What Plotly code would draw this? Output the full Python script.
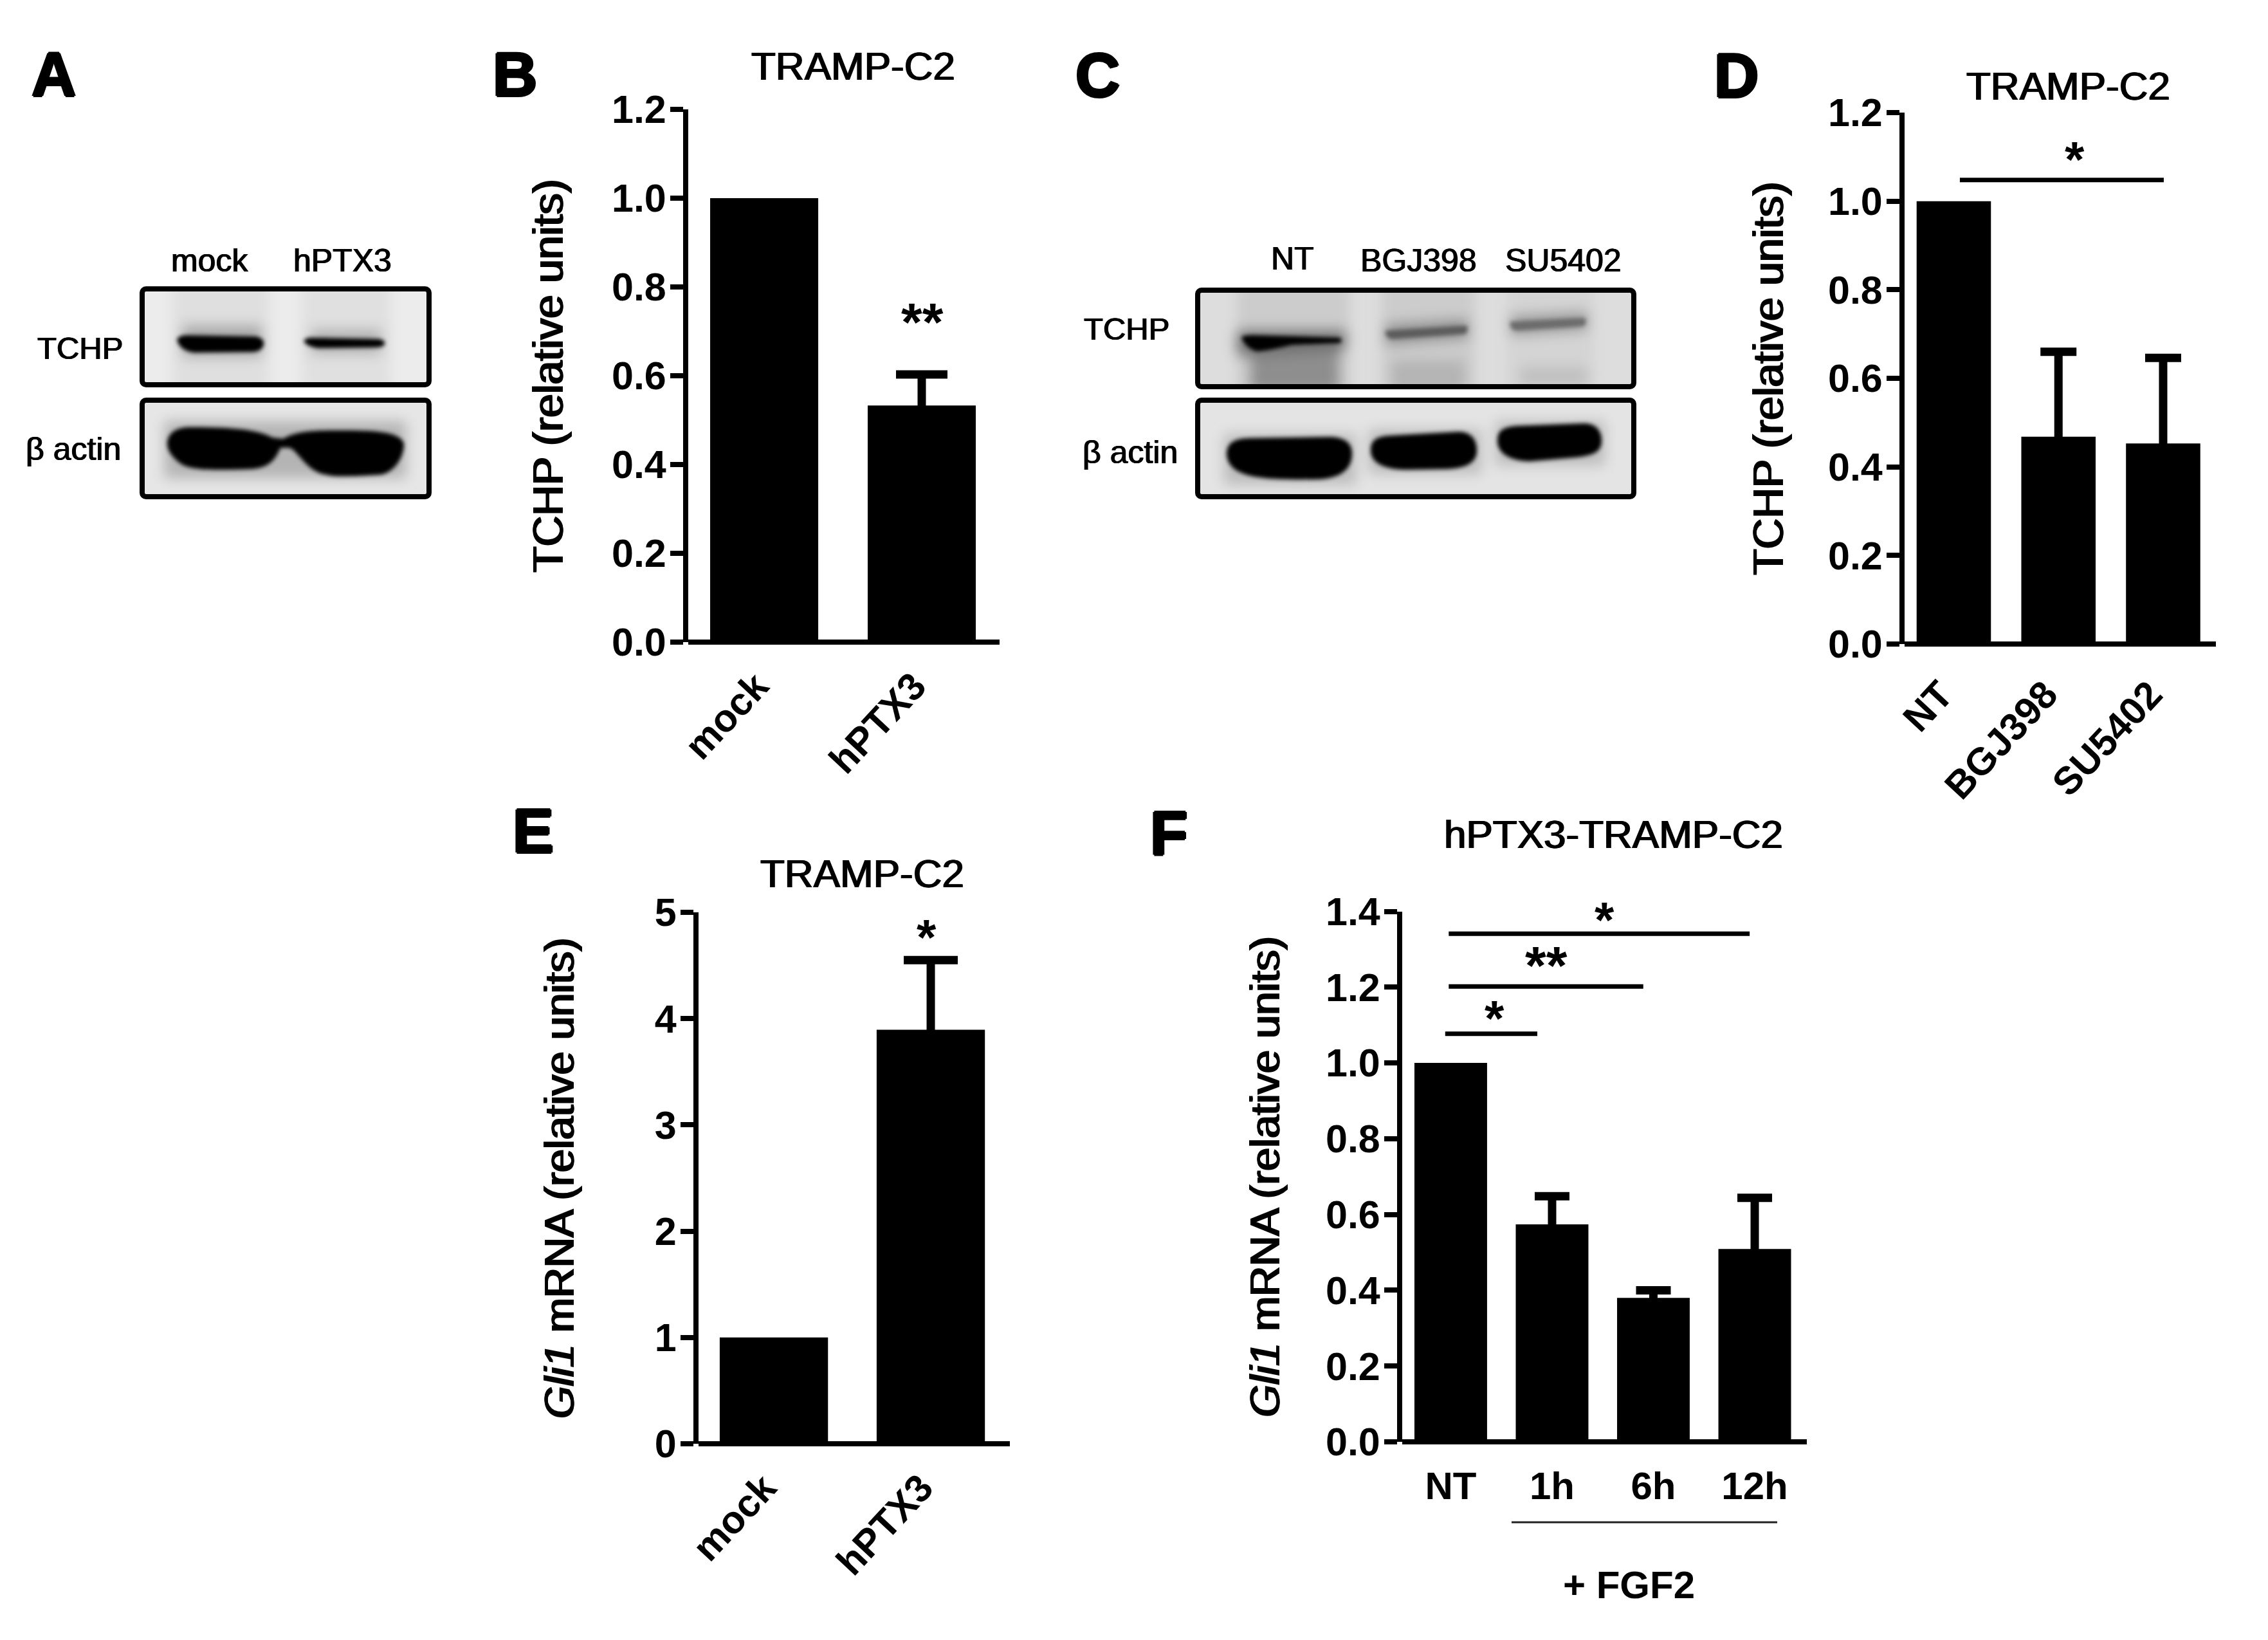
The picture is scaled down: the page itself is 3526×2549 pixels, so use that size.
import base64
import plotly.graph_objects as go

W, H = 3526, 2549
FONT = "Liberation Sans, Arial, sans-serif"

# ---- data ----
B_CATS = ["mock", "hPTX3"]
B_VALS = [1.0, 0.533]
B_ERR = [None, 0.070]
B_TICKS = [0, 0.2, 0.4, 0.6, 0.8, 1.0, 1.2]

D_CATS = ["NT", "BGJ398", "SU5402"]
D_VALS = [1.0, 0.468, 0.453]
D_ERR = [None, 0.192, 0.193]
D_TICKS = [0, 0.2, 0.4, 0.6, 0.8, 1.0, 1.2]

E_CATS = ["mock", "hPTX3"]
E_VALS = [1.0, 3.895]
E_ERR = [None, 0.655]
E_TICKS = [0, 1, 2, 3, 4, 5]

F_CATS = ["NT", "1h", "6h", "12h"]
F_VALS = [1.0, 0.574, 0.38, 0.509]
F_ERR = [None, 0.074, 0.020, 0.135]
F_TICKS = [0, 0.2, 0.4, 0.6, 0.8, 1.0, 1.2, 1.4]

D_SIG = [(0.058, 2.006, 1.048, "*")]
F_SIG = [(-0.02, 2.95, 1.341, "*"), (-0.02, 1.90, 1.2016, "**"), (-0.055, 0.854, 1.077, "*")]

PANEL_LETTERS = [("A", 83, 116), ("B", 800, 116), ("C", 1706, 117), ("D", 2699, 118), ("E", 829, 1291), ("F", 1818, 1294)]


def px(x):
    return x / W


def py(y):
    return 1 - y / H


fig = go.Figure()

PANELS = [
    dict(n="", cats=B_CATS, vals=B_VALS, err=B_ERR, ticks=B_TICKS, dom=(1070, 1554, 170, 998),
         rng=(-0.482, 1.494), ymax=1.2, gap=0.314, cap=40, angle=-47, ytitle="TCHP (relative units)", fmt=".1f",
         stand=57, shift=-12, xoff=20, tsize=66),
    dict(n="2", cats=D_CATS, vals=D_VALS, err=D_ERR, ticks=D_TICKS, dom=(2961, 3445, 175, 1001),
         rng=(-0.47, 2.504), ymax=1.2, gap=0.29, cap=28, angle=-47, ytitle="TCHP (relative units)", fmt=".1f",
         stand=51, shift=-20, xoff=30, tsize=66),
    dict(n="3", cats=E_CATS, vals=E_VALS, err=E_ERR, ticks=E_TICKS, dom=(1086, 1570, 1418, 2244),
         rng=(-0.48, 1.504), ymax=5, gap=0.31, cap=42, angle=-47, ytitle="<i>Gli1</i> mRNA (relative units)", fmt="d",
         stand=107, shift=-15, xoff=20, tsize=65),
    dict(n="4", cats=F_CATS, vals=F_VALS, err=F_ERR, ticks=F_TICKS, dom=(2180, 2809, 1416.5, 2241),
         rng=(-0.479, 3.514), ymax=1.4, gap=0.283, cap=27, angle=0, ytitle="<i>Gli1</i> mRNA (relative units)", fmt=".1f",
         stand=53, shift=0, xoff=28, tsize=65),
]

MEDIUM = "1px 0 0 #000, -1px 0 0 #000"
TITLE_WEIGHT = "1.4px 0 0 #000, -1.4px 0 0 #000"

layout_axes = {}
for p in PANELS:
    xs = list(range(len(p["cats"])))
    fig.add_trace(go.Bar(
        x=xs, y=p["vals"], xaxis="x" + p["n"], yaxis="y" + p["n"], width=1 - p["gap"],
        marker=dict(color="#000000", line=dict(width=0)), showlegend=False,
    ))
    ex = [x for x, e in zip(xs, p["err"]) if e is not None]
    ey = [v for v, e in zip(p["vals"], p["err"]) if e is not None]
    ee = [e for e in p["err"] if e is not None]
    fig.add_trace(go.Scatter(
        x=ex, y=ey, xaxis="x" + p["n"], yaxis="y" + p["n"], mode="markers", marker=dict(size=1, color="#000"),
        error_y=dict(type="data", symmetric=False, array=ee, arrayminus=[p["ymax"] * 0.03] * len(ee),
                     color="#000000", thickness=13, width=p["cap"]),
        showlegend=False, hoverinfo="skip",
    ))
    x0, x1, y0, y1 = p["dom"]
    layout_axes["xaxis" + p["n"]] = dict(
        domain=[px(x0), px(x1)], range=list(p["rng"]), anchor="y" + p["n"], tickmode="array", automargin=False,
        tickvals=xs, ticktext=p["cats"], tickangle=p["angle"], ticks="", showgrid=False, zeroline=False,
        showline=False, ticklabelstandoff=p["xoff"], ticklabelshift=p["shift"],
        tickfont=dict(family=FONT, size=60, color="#000", weight="bold"),
    )
    layout_axes["yaxis" + p["n"]] = dict(
        domain=[py(y1), py(y0)], range=[0, p["ymax"]], anchor="x" + p["n"], tickmode="array", automargin=False,
        tickvals=p["ticks"], tickformat=p["fmt"], ticks="outside", ticklen=20, tickwidth=8, tickcolor="#000",
        showgrid=False, zeroline=True, zerolinecolor="#000", zerolinewidth=8,
        showline=True, linecolor="#000", linewidth=8, ticklabelstandoff=-6,
        tickfont=dict(family=FONT, size=61, color="#000", weight="bold"),
        title=dict(text=p["ytitle"], standoff=p["stand"],
                   font=dict(family=FONT, size=p["tsize"], color="#000", shadow=TITLE_WEIGHT)),
    )

# significance bars
for n, sig in (("2", D_SIG), ("4", F_SIG)):
    for a, b, y, _s in sig:
        fig.add_trace(go.Scatter(x=[a, b], y=[y, y], xaxis="x" + n, yaxis="y" + n, mode="lines",
                                 line=dict(color="#000", width=7), showlegend=False, hoverinfo="skip"))

ann = []


def text(t, x, y, size, bold=False, shadow=None):
    f = dict(family=FONT, size=size, color="#000", weight="bold" if bold else "normal")
    if shadow:
        f["shadow"] = shadow
    ann.append(dict(text=t, x=px(x), y=py(y), xref="paper", yref="paper", xanchor="center", yanchor="middle",
                    showarrow=False, font=f))


for t, x, y in PANEL_LETTERS:
    text(t, x, y, 96, True, "2px 0 0 #000, -2px 0 0 #000, 0 2px 0 #000, 0 -2px 0 #000")

text("TRAMP-C2", 1326, 102, 62, False, MEDIUM)
text("TRAMP-C2", 3215, 133, 62, False, MEDIUM)
text("TRAMP-C2", 1340, 1357, 62, False, MEDIUM)
text("hPTX3-TRAMP-C2", 2508, 1296, 62, False, MEDIUM)
text("+ FGF2", 2532, 2463, 60, True)

STAR_DROP = 20
text("**", 1434, 481 + STAR_DROP, 84, True)
text("*", 3225, 228 + STAR_DROP, 78, True)
text("*", 1440, 1437 + STAR_DROP, 78, True)
text("*", 2494, 1410 + STAR_DROP, 78, True)
text("**", 2404, 1481 + STAR_DROP, 84, True)
text("*", 2323, 1563 + STAR_DROP, 78, True)

# blot labels
LABEL = "0.7px 0 0 #000, -0.7px 0 0 #000"
text("mock", 326, 405, 50, False, LABEL)
text("hPTX3", 532, 405, 50, False, LABEL)
text("TCHP", 125, 541, 49, False, LABEL)
text("β actin", 114, 698, 50, False, LABEL)
text("NT", 2009, 402, 50, False, LABEL)
text("BGJ398", 2205, 405, 50, False, LABEL)
text("SU5402", 2430, 405, 50, False, LABEL)
text("TCHP", 1751, 511, 49, False, LABEL)
text("β actin", 1757, 703, 50, False, LABEL)

# "+ FGF2" bracket
shapes = [dict(type="line", xref="paper", yref="paper", x0=px(2350), x1=px(2763), y0=py(2366), y1=py(2366),
               line=dict(color="#222", width=3))]


def blot_svg(vx, vy, vw, vh, boxes, bg, fg):
    """Western-blot picture: grey boxes, blurred lanes and bands, black frames (picture coordinates)."""
    s = [f'<svg xmlns="http://www.w3.org/2000/svg" width="{vw}" height="{vh}" viewBox="{vx} {vy} {vw} {vh}" preserveAspectRatio="none">',
         '<defs><filter id="b3" x="-30%" y="-30%" width="160%" height="160%"><feGaussianBlur stdDeviation="3"/></filter>',
         '<filter id="b10" x="-30%" y="-30%" width="160%" height="160%"><feGaussianBlur stdDeviation="10"/></filter>']
    for i, (x, y, w, h) in enumerate(boxes):
        s.append(f'<clipPath id="c{i}"><rect x="{x}" y="{y}" width="{w}" height="{h}" rx="9"/></clipPath>')
    s.append('</defs>')
    for i, (x, y, w, h) in enumerate(boxes):
        s.append(f'<g clip-path="url(#c{i})"><rect x="{x}" y="{y}" width="{w}" height="{h}" fill="{bg[i]}"/>')
        s.append('<g filter="url(#b10)">' + fg[i][0] + '</g>')
        s.append('<g filter="url(#b3)">' + fg[i][1] + '</g></g>')
        s.append(f'<rect x="{x + 4}" y="{y + 4}" width="{w - 8}" height="{h - 8}" rx="6" fill="none" stroke="#000" stroke-width="8"/>')
    s.append('</svg>')
    return "data:image/svg+xml;base64," + base64.b64encode("".join(s).encode()).decode()


A_LANES_TOP = ('<rect x="270" y="440" width="150" height="170" fill="#dfdfdf"/>'
               '<rect x="470" y="440" width="140" height="170" fill="#e0e0e0"/>'
               '<rect x="285" y="505" width="125" height="50" fill="#a8a8a8"/>'
               '<rect x="485" y="512" width="110" height="38" fill="#b0b0b0"/>')
A_BANDS_TOP = ('<path d="M277,528 Q280,521 292,521 L400,523 Q413,526 412,535 Q410,546 395,547 L305,548 Q282,546 277,528Z" fill="#000"/>'
               '<path d="M474,530 Q478,524 490,525 L592,527 Q602,530 600,535 Q598,540 585,540 L495,541 Q478,538 474,530Z" fill="#000"/>')
A_LANES_BOT = ('<rect x="258" y="655" width="375" height="88" fill="#b4b4b4"/>')
A_BANDS_BOT = ('<path d="M262,690 C262,668 285,663 300,664 C340,664 400,665 425,680 L442,682 C460,672 480,669 520,669 '
               'C570,669 625,668 630,690 C630,715 610,738 590,738 C560,740 520,742 510,738 C480,735 465,700 452,696 L438,696 '
               'C430,715 420,728 390,729 C340,731 300,731 285,722 C270,712 262,700 262,690Z" fill="#000"/>')

C_LANES_TOP = ('<rect x="1925" y="440" width="175" height="170" fill="#cccccc"/>'
               '<rect x="2150" y="440" width="145" height="170" fill="#cccccc"/>'
               '<rect x="2345" y="440" width="135" height="170" fill="#d4d4d4"/>'
               '<rect x="1945" y="540" width="140" height="70" fill="#8e8e8e"/>'
               '<rect x="2165" y="560" width="115" height="50" fill="#b4b4b4"/>'
               '<rect x="2365" y="570" width="105" height="30" fill="#c0c0c0"/>'
               '<path d="M1925,512 L2095,512 L2095,545 L1925,555Z" fill="#707070"/>'
               '<path d="M2155,503 L2285,495 L2285,527 L2155,537Z" fill="#909090"/>'
               '<path d="M2350,490 L2470,484 L2470,514 L2350,522Z" fill="#989898"/>')
C_BANDS_TOP = ('<path d="M1932,524 Q1936,521 1950,521 L2085,525 Q2090,529 2085,533 L2010,536 Q1975,545 1955,546 Q1938,540 1932,524Z" fill="#000"/>'
               '<path d="M2156,514 L2282,506 Q2286,513 2280,519 L2165,527 Q2155,524 2156,514Z" fill="#5c5c5c"/>'
               '<path d="M2350,500 L2466,494 Q2470,501 2464,507 L2358,514 Q2348,510 2350,500Z" fill="#6c6c6c"/>')
C_LANES_BOT = ('<rect x="1905" y="675" width="205" height="78" fill="#bcbcbc"/>'
               '<rect x="2130" y="668" width="175" height="68" fill="#bcbcbc"/>'
               '<rect x="2327" y="655" width="170" height="68" fill="#bcbcbc"/>')
C_BANDS_BOT = ('<path d="M1909,705 C1910,685 1925,682 1945,681 L2070,679 C2095,680 2104,690 2104,705 C2104,730 2085,744 2050,745 '
               'C1990,746 1950,744 1930,734 C1915,728 1909,715 1909,705Z" fill="#000"/>'
               '<path d="M2133,700 C2133,682 2145,678 2165,677 L2270,671 C2290,671 2298,685 2298,700 C2298,720 2280,728 2250,729 '
               'L2190,730 C2155,730 2133,720 2133,700Z" fill="#000"/>'
               '<path d="M2330,685 C2330,668 2340,664 2360,662 L2465,658 C2485,658 2492,672 2492,685 C2492,702 2480,708 2450,711 '
               'L2380,717 C2350,716 2330,705 2330,685Z" fill="#000"/>')

images = [
    dict(source=blot_svg(215, 440, 465, 342, [(219, 445, 454, 157), (219, 618, 454, 158)], ["#ececec", "#e6e6e6"],
                         [(A_LANES_TOP, A_BANDS_TOP), (A_LANES_BOT, A_BANDS_BOT)]),
         xref="paper", yref="paper", x=px(213), y=py(440), sizex=465 / W, sizey=342 / H,
         xanchor="left", yanchor="top", sizing="stretch", layer="below"),
    dict(source=blot_svg(1855, 440, 697, 342, [(1860, 447, 686, 158), (1860, 618, 686, 158)], ["#dddddd", "#e4e4e4"],
                         [(C_LANES_TOP, C_BANDS_TOP), (C_LANES_BOT, C_BANDS_BOT)]),
         xref="paper", yref="paper", x=px(1853), y=py(440), sizex=697 / W, sizey=342 / H,
         xanchor="left", yanchor="top", sizing="stretch", layer="below"),
]

fig.update_layout(
    width=W, height=H, margin=dict(l=0, r=0, t=0, b=0), paper_bgcolor="#fff", plot_bgcolor="rgba(0,0,0,0)",
    font=dict(family=FONT), annotations=ann, shapes=shapes, images=images, showlegend=False, **layout_axes,
)
fig.write_html("out.html", config=dict(displayModeBar=False), post_script="document.body.style.margin='0';")
